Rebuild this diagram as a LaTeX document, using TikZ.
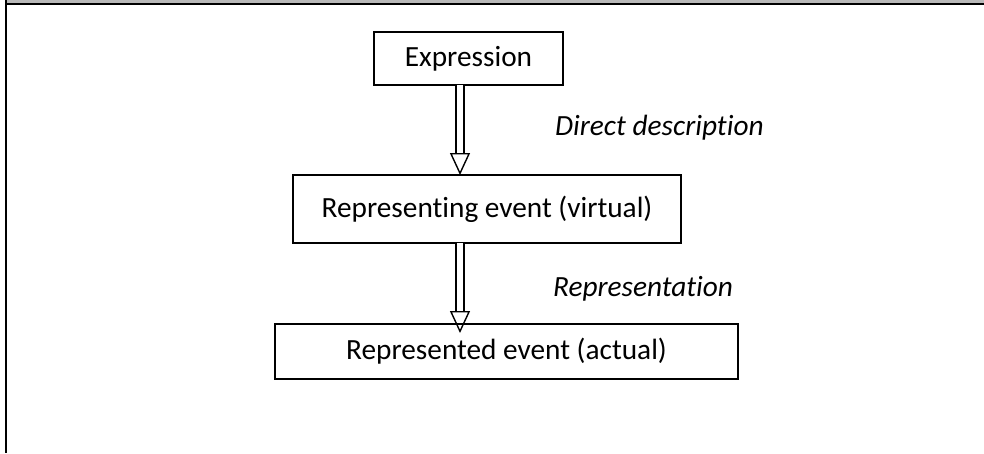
\documentclass[tikz,border=0pt]{standalone}
\usepackage{fontspec}
\setmainfont[Ligatures=NoCommon]{Carlito}
\usetikzlibrary{arrows.meta}
\begin{document}
\begin{tikzpicture}[x=1pt,y=-1pt,
  box/.style={draw=black,line width=1.6pt,minimum height=#1,inner sep=0pt,font=\fontsize{29.3}{34}\selectfont},
  lbl/.style={font=\fontsize{29.3}{34}\selectfont\itshape,inner sep=0pt},
  dbl/.style={double=white,double distance=6.5pt,line width=1.4pt,
    -{Triangle[open,length=22pt,width=20pt,line width=1.4pt]}}]
\useasboundingbox (0,0) rectangle (984,453);
\fill[gray!55] (7,0) rectangle (984,3);
\draw[line width=2pt] (6,4) -- (984,4);
\draw[line width=2pt] (6,0) -- (6,453);
\node[box=53pt,minimum width=189pt] (e) at (468.5,58.5) {Expression};
\node[box=68pt,minimum width=388pt] (r1) at (487,209) {Representing event (virtual)};
\node[box=55pt,minimum width=463pt] (r2) at (506.5,351.5) {Represented event (actual)};
\coordinate (a1s) at (460,85);
\coordinate (a1e) at (460,175);
\coordinate (a2s) at (460,243);
\coordinate (a2e) at (460,333);
\draw[dbl] (a1s) -- (a1e);
\draw[dbl] (a2s) -- (a2e);
\node[lbl,anchor=base west] (d) at (555,135) {Direct description};
\node[lbl,anchor=base west] (rp) at (553,296) {Representation};
\end{tikzpicture}
\end{document}
